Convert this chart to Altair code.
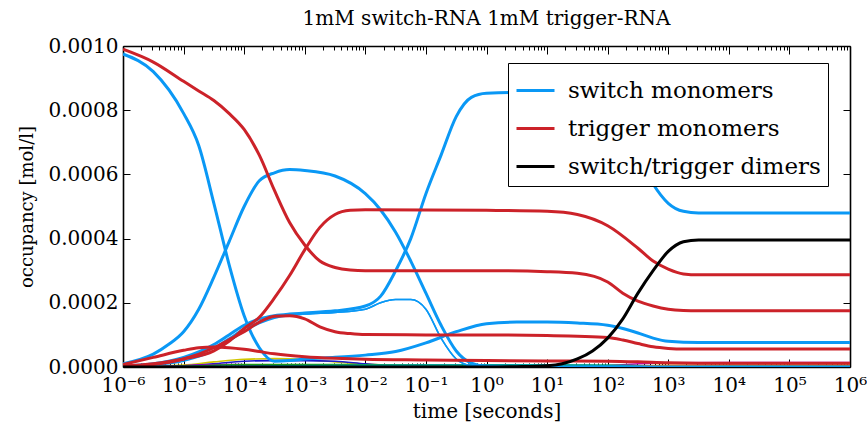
import json
import altair as alt
import pandas as pd

FONT = "DejaVu Serif"
BLUE = "#0a98f5"
RED = "#cc2229"
BLACK = "#000000"

W, H = 727, 321

# ---------------- main series (log10 time [s], occupancy [mol/l]) ----------------
sw1_logt = [-6, -5.5, -5, -4.75, -4.5, -4.25, -4, -3.75, -3.5, -3.25, -3, -2.5, -2, -1.5, -1, -0.5, 0, 0.5, 1, 1.5, 2, 2.25, 2.5, 2.75, 3, 3.5, 4, 5, 6]
sw1_val = [0.000975, 0.00092, 0.00079, 0.00069, 0.00051, 0.00032, 0.00016, 0.00006, 0.000018, 0.00002, 0.000025, 0.00003, 0.000037, 0.000048, 0.000075, 0.00011, 0.000135, 0.00014, 0.00014, 0.000137, 0.00013, 0.00012, 0.000106, 0.00009, 0.00008, 0.000076, 0.000076, 0.000076, 0.000076]

sw2_logt = [-6, -5.5, -5.25, -5, -4.75, -4.5, -4.25, -4, -3.75, -3.5, -3.25, -3, -2.5, -2, -1.75, -1.5, -1.25, -1, -0.75, -0.5, -0.25, 0, 0.5, 1, 6]
sw2_val = [0.00001, 0.00004, 0.00007, 0.00011, 0.00018, 0.00028, 0.00039, 0.00050, 0.00058, 0.000605, 0.000615, 0.000612, 0.000595, 0.00054, 0.00049, 0.00042, 0.00033, 0.00023, 0.00013, 0.00005, 0.000012, 0.000002, 0.0, 0.0, 0.0]

sw3_logt = [-6, -5.5, -5, -4.5, -4.25, -4, -3.75, -3.5, -3.25, -3, -2.5, -2, -1.75, -1.5, -1.25, -1, -0.75, -0.5, -0.25, 0, 0.5, 1, 1.5, 2, 2.25, 2.5, 2.75, 3, 3.25, 3.5, 4, 5, 6]
sw3_val = [0.000003, 0.00001, 0.00003, 0.00007, 0.0001, 0.00013, 0.00015, 0.00016, 0.000165, 0.000168, 0.000175, 0.00019, 0.00022, 0.0003, 0.0004, 0.00054, 0.00066, 0.00078, 0.00084, 0.000853, 0.000855, 0.000855, 0.00085, 0.00081, 0.00075, 0.00066, 0.00057, 0.00051, 0.000485, 0.00048, 0.00048, 0.00048, 0.00048]

swt1_logt = [-6, -5.5, -5, -4.5, -4.25, -4, -3.75, -3.5, -3.25, -3, -2.5, -2, -1.75, -1.5, -1.25, -1, -0.75, -0.5, -0.25, 0, 0.5, 6]
swt1_val = [0.000002, 0.000008, 0.000025, 0.00006, 0.00009, 0.00012, 0.00014, 0.000155, 0.00016, 0.000165, 0.00017, 0.00018, 0.0002, 0.00021, 0.00021, 0.00018, 0.00009, 0.000025, 0.000004, 0.000001, 0.0, 0.0]

swt2_logt = [-6, -5.5, -5, -4.5, -4.25, -4, -3.75, -3.5, -3.25, -3, -2.5, -2, -1.75, -1.5, -1.25, -1, -0.75, -0.5, -0.25, 0, 0.5, 6]
swt2_val = [0.000001, 0.000005, 0.000018, 0.00005, 0.00008, 0.00011, 0.000135, 0.000152, 0.00016, 0.000165, 0.00017, 0.00018, 0.0002, 0.00021, 0.00021, 0.00018, 0.00009, 0.000025, 0.000004, 0.000001, 0.0, 0.0]

tr1_logt = [-6, -5.5, -5, -4.75, -4.5, -4.25, -4, -3.75, -3.5, -3.25, -3, -2.75, -2.5, -2.25, -2, 0, 1, 1.5, 2, 2.25, 2.5, 2.75, 3, 3.25, 3.5, 4, 5, 6]
tr1_val = [0.00099, 0.00095, 0.00089, 0.00086, 0.00083, 0.00079, 0.00074, 0.00066, 0.00055, 0.00045, 0.00038, 0.00033, 0.00031, 0.000302, 0.0003, 0.0003, 0.000297, 0.000292, 0.000265, 0.00023, 0.000205, 0.00019, 0.00018, 0.000176, 0.000175, 0.000175, 0.000175, 0.000175]

tr2_logt = [-6, -5.5, -5, -4.5, -4.25, -4, -3.75, -3.5, -3.25, -3, -2.75, -2.5, -2.25, -2, 0, 1, 1.5, 2, 2.5, 2.75, 3, 3.25, 3.5, 4, 5, 6]
tr2_val = [0.000003, 0.00001, 0.000025, 0.00005, 0.00008, 0.00012, 0.000155, 0.000215, 0.000285, 0.000365, 0.000435, 0.000475, 0.000488, 0.00049, 0.000488, 0.000485, 0.000475, 0.00044, 0.00037, 0.00033, 0.000305, 0.00029, 0.000287, 0.000287, 0.000287, 0.000287]

tr3_logt = [-6, -5.5, -5, -4.5, -4.25, -4, -3.75, -3.5, -3.25, -3, -2.75, -2.5, -2.25, -2, -1, 0, 1, 1.5, 2, 2.25, 2.5, 2.75, 3, 3.25, 4, 5, 6]
tr3_val = [0.000002, 0.000008, 0.000025, 0.00006, 0.000085, 0.00011, 0.00014, 0.000158, 0.00016, 0.00015, 0.000125, 0.00011, 0.000104, 0.000101, 0.0001, 0.0001, 0.0000985, 0.000096, 0.000092, 0.000084, 0.000073, 0.000063, 0.000058, 0.000056, 0.000056, 0.000056, 0.000056]

tr4_logt = [-6, -5.5, -5, -4.75, -4.5, -4.25, -4, -3.75, -3.5, -3, -2.5, -2, -1, 0, 1, 2, 2.5, 3, 3.5, 4, 5, 6]
tr4_val = [0.000008, 0.00003, 0.000052, 0.00006, 0.000062, 0.00006, 0.000055, 0.000048, 0.000041, 0.000032, 0.000027, 0.000024, 0.000022, 0.00002, 0.000019, 0.000018, 0.000016, 0.000013, 0.000012, 0.000012, 0.000012, 0.000012]

dim_logt = [-6, 0, 0.5, 1, 1.25, 1.5, 1.75, 2, 2.25, 2.5, 2.75, 3, 3.25, 3.5, 4, 5, 6]
dim_val = [0.0, 0.0, 0.000001, 0.000004, 0.00001, 0.000025, 0.00005, 0.00009, 0.00015, 0.00023, 0.0003, 0.00036, 0.00039, 0.000396, 0.000396, 0.000396, 0.000396]

groups = ["switch monomers", "trigger monomers", "switch/trigger dimers"]

main_series = [
    ("sw1", groups[0], 3.0, sw1_logt, sw1_val),
    ("sw2", groups[0], 3.0, sw2_logt, sw2_val),
    ("sw3", groups[0], 3.0, sw3_logt, sw3_val),
    ("swt1", groups[0], 1.5, swt1_logt, swt1_val),
    ("swt2", groups[0], 1.5, swt2_logt, swt2_val),
    ("tr1", groups[1], 3.0, tr1_logt, tr1_val),
    ("tr2", groups[1], 3.0, tr2_logt, tr2_val),
    ("tr3", groups[1], 3.0, tr3_logt, tr3_val),
    ("tr4", groups[1], 3.0, tr4_logt, tr4_val),
    ("dim", groups[2], 3.0, dim_logt, dim_val),
]

# ---------------- minor species near zero ----------------
minor_colors = ["#d2c600", "#1a1acc", "#9000c0", "#cc00cc", "#1a9a1a", "#00a0a0", "#e07800"]
m1_logt = [-6, -5, -4.5, -4, -3.5, -3, -2.5, -2, -1, 0, 6]
m1_val = [0.0, 0.000006, 0.000016, 0.000024, 0.000026, 0.000023, 0.000016, 0.000009, 0.000003, 0.000001, 0.0000005]
m2_logt = [-6, -5, -4.5, -4, -3.5, -3, -2.5, -2, -1.5, -1, 6]
m2_val = [0.0, 0.000003, 0.00001, 0.000018, 0.00002, 0.00002, 0.000018, 0.00001, 0.000004, 0.000001, 0.0]
m3_logt = [-6, -5, -4.5, -4, -3, -2, 0, 6]
m3_val = [0.0, 0.000004, 0.000008, 0.000007, 0.000004, 0.000002, 0.0, 0.0]
m4_logt = [-6, 1, 1.5, 2, 2.5, 3, 4, 6]
m4_val = [0.0, 0.0, 0.000001, 0.000004, 0.00001, 0.000013, 0.000014, 0.000014]
m5_logt = [-6, -5, -4, -3, -2, 0, 2, 3, 6]
m5_val = [0.0, 0.000002, 0.000008, 0.000008, 0.000007, 0.000006, 0.000005, 0.000004, 0.000004]
m6_logt = [-6, -4, -2, 0, 1, 2, 3, 6]
m6_val = [0.0, 0.000003, 0.000005, 0.000007, 0.000007, 0.000005, 0.000003, 0.000003]
m7_logt = [-6, 2, 3, 4, 6]
m7_val = [0.0, 0.0, 0.000005, 0.000006, 0.000006]
minor_series = [
    ("m1", m1_logt, m1_val), ("m2", m2_logt, m2_val), ("m3", m3_logt, m3_val),
    ("m4", m4_logt, m4_val), ("m5", m5_logt, m5_val), ("m6", m6_logt, m6_val),
    ("m7", m7_logt, m7_val),
]

# ---------------- axis ticks ----------------
decades = [10.0 ** e for e in range(-6, 7)]
decade_labels = ["10⁻⁶", "10⁻⁵", "10⁻⁴", "10⁻³", "10⁻²", "10⁻¹", "10⁰",
                 "10¹", "10²", "10³", "10⁴", "10⁵", "10⁶"]
minor_ticks = [k * 10.0 ** e for e in range(-6, 6) for k in range(2, 10)]
y_ticks = [0.0, 0.0002, 0.0004, 0.0006, 0.0008, 0.0010]

rows = []
for sid, grp, w, lt, vals in main_series:
    for a, b in zip(lt, vals):
        rows.append({"id": sid, "group": grp, "w": w, "t": 10.0 ** a, "v": b})
df_main = pd.DataFrame(rows)

rows = []
for i, (sid, lt, vals) in enumerate(minor_series):
    for a, b in zip(lt, vals):
        rows.append({"id": sid, "c": minor_colors[i], "t": 10.0 ** a, "v": b})
df_minor = pd.DataFrame(rows)

xscale = alt.Scale(type="log", domain=[1e-6, 1e6], nice=False)
yscale = alt.Scale(domain=[0, 0.001], nice=False, zero=False)

label_expr = json.dumps(decade_labels, ensure_ascii=False) + "[round(log(datum.value)/LN10)+6]"

minor_layer = alt.Chart(df_minor).mark_line(interpolate="monotone", strokeWidth=1.6, clip=True).encode(
    x=alt.X("t:Q", scale=xscale, axis=None),
    y=alt.Y("v:Q", scale=yscale, axis=None),
    stroke=alt.Stroke("c:N", scale=None),
    detail="id:N",
)

main_layer = alt.Chart(df_main).mark_line(interpolate="monotone", clip=True).encode(
    x=alt.X("t:Q", scale=xscale, axis=alt.Axis(
        orient="bottom", values=decades, labelExpr=label_expr, ticks=False, domain=False,
        grid=False, labelFont=FONT, labelFontSize=20, labelColor="black", labelPadding=8,
        labelFlush=False, labelOverlap=False,
        title="time [seconds]", titleFont=FONT, titleFontSize=20, titleFontWeight="normal",
        titleColor="black", titlePadding=6)),
    y=alt.Y("v:Q", scale=yscale, axis=alt.Axis(
        orient="left", values=y_ticks, format=".4f", ticks=False, domain=False, grid=False,
        labelFont=FONT, labelFontSize=20, labelColor="black", labelPadding=5,
        labelOverlap=False, labelFlush=False,
        title="occupancy [mol/l]", titleFont=FONT, titleFontSize=18, titleFontWeight="normal",
        titleColor="black", titlePadding=12)),
    color=alt.Color("group:N", scale=alt.Scale(domain=groups, range=[BLUE, RED, BLACK]),
                    legend=alt.Legend(
                        orient="none", legendX=385, legendY=17, title=None,
                        fillColor="white", strokeColor="black", padding=7,
                        labelFont=FONT, labelFontSize=23, labelColor="black", labelOffset=12,
                        symbolType="stroke", symbolSize=1444, symbolStrokeWidth=3,
                        rowPadding=5, labelLimit=400)),
    detail="id:N",
    strokeWidth=alt.StrokeWidth("w:Q", scale=None),
)


def x_tick_layer(vals, orient, size, domain):
    return alt.Chart(pd.DataFrame({"t": vals})).mark_point(opacity=0).encode(
        x=alt.X("t:Q", scale=xscale, axis=alt.Axis(
            orient=orient, offset=-H, values=vals, ticks=True, tickSize=size,
            tickColor="black", tickWidth=1, labels=False, domain=domain,
            domainColor="black", domainWidth=1.6, grid=False, title=None)),
        y=alt.value(0),
    )


def y_tick_layer(vals, orient, size):
    return alt.Chart(pd.DataFrame({"v": vals})).mark_point(opacity=0).encode(
        y=alt.Y("v:Q", scale=yscale, axis=alt.Axis(
            orient=orient, offset=-W, values=vals, ticks=True, tickSize=size,
            tickColor="black", tickWidth=1, labels=False, domain=True,
            domainColor="black", domainWidth=1.6, grid=False, title=None)),
        x=alt.value(0),
    )


layers = [
    minor_layer,
    main_layer,
    x_tick_layer(decades, "top", 8, True),       # bottom spine, inward ticks
    x_tick_layer(minor_ticks, "top", 4, False),
    x_tick_layer(decades, "bottom", 8, True),    # top spine, inward ticks
    x_tick_layer(minor_ticks, "bottom", 4, False),
    y_tick_layer(y_ticks, "right", 7),           # left spine
    y_tick_layer(y_ticks, "left", 7),            # right spine
]

chart = alt.layer(*layers).resolve_axis(
    x="independent", y="independent"
).properties(
    width=W, height=H,
    title=alt.TitleParams("1mM switch-RNA 1mM trigger-RNA", font=FONT, fontSize=20,
                          fontWeight="normal", color="black", offset=7),
    autosize=alt.AutoSizeParams(type="none"),
    padding={"left": 123, "top": 46, "right": 17, "bottom": 63},
).configure_view(stroke=None).configure(background="white")

chart.save("out.html", embed_options={"renderer": "svg", "actions": False})
